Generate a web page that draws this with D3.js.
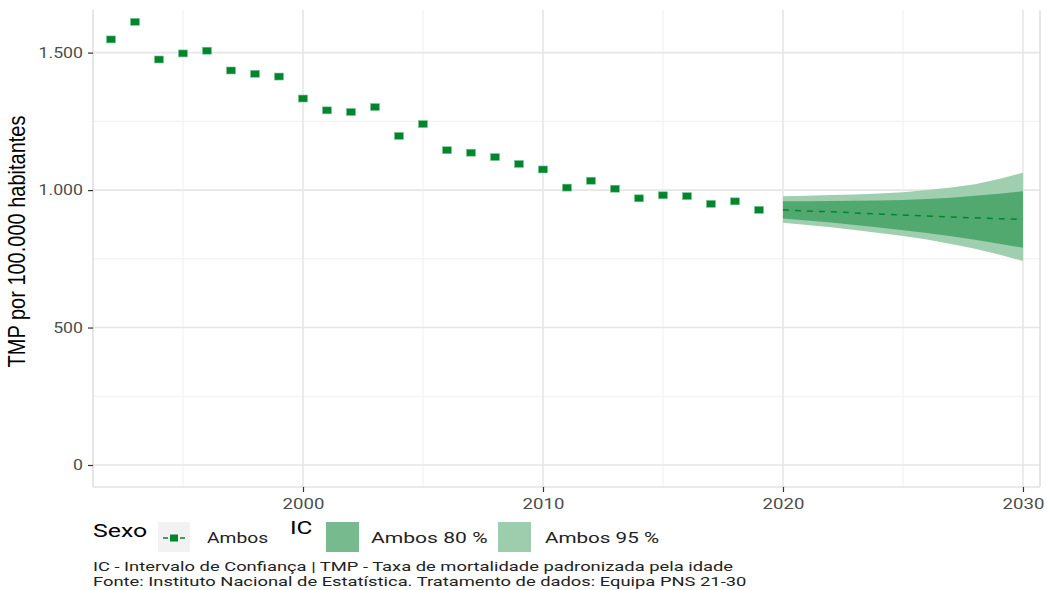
<!DOCTYPE html>
<html><head><meta charset="utf-8">
<script src="https://cdn.jsdelivr.net/npm/d3@7"></script>
<style>body{margin:0;background:#fff}svg{display:block}</style>
</head><body>
<svg id="chart" width="1047" height="590"></svg>
<script>
const years = [1992,1993,1994,1995,1996,1997,1998,1999,2000,2001,2002,2003,2004,2005,2006,2007,2008,2009,2010,2011,2012,2013,2014,2015,2016,2017,2018,2019];
const tmp = [1548,1612,1475,1497,1507,1435,1423,1413,1333,1290,1284,1302,1197,1240,1145,1136,1120,1095,1075,1009,1034,1005,970,981,978,950,959,928];
const fYears = [2020,2021,2022,2023,2024,2025,2026,2027,2028,2029,2030];
const fMean = [928,924,921,917,913,909,906,902,899,896,893];
const lo80 = [897,889,882,873,864,854,844,832,819,805,790];
const hi80 = [959,959,960,961,962,964,968,972,979,987,996];
const lo95 = [881,873,865,855,844,833,820,804,787,766,742];
const hi95 = [978,979,982,984,988,992,1000,1009,1021,1040,1063];
const xTicks = [2000,2010,2020,2030];
const xMinor = [1995,2005,2015,2025];
const yTicks = [0,500,1000,1500];
const yMinor = [250,750,1250];
const yTitle = "TMP por 100.000 habitantes";
const legendSexo = ["Sexo","Ambos"];
const legendIC = ["IC","Ambos 80 %","Ambos 95 %"];
const captions = ["IC - Intervalo de Confiança | TMP - Taxa de mortalidade padronizada pela idade",
                  "Fonte: Instituto Nacional de Estatística. Tratamento de dados: Equipa PNS 21-30"];

const svg = d3.select("#chart");
const L=93, R=1040, T=10, B=487;
const x = d3.scaleLinear().domain([1991.25,2030.71]).range([L,R]);
const y = d3.scaleLinear().domain([-80,1655]).range([B,T]);
const fmt = d => d3.format(",")(d).replace(/,/g,".");
const green = "#00852f";
function stretch(sel, f){
  sel.each(function(){ const w=this.getComputedTextLength(); d3.select(this).attr("textLength",w*f).attr("lengthAdjust","spacingAndGlyphs"); });
}

const g = svg.append("g");
g.selectAll(".xm").data(xMinor).join("line").attr("x1",d=>x(d)).attr("x2",d=>x(d)).attr("y1",T).attr("y2",B).attr("stroke","#f0f0f0").attr("stroke-width",1);
g.selectAll(".ym").data(yMinor).join("line").attr("y1",d=>y(d)).attr("y2",d=>y(d)).attr("x1",L).attr("x2",R).attr("stroke","#f0f0f0").attr("stroke-width",1);
g.selectAll(".xM").data(xTicks).join("line").attr("x1",d=>x(d)).attr("x2",d=>x(d)).attr("y1",T).attr("y2",B).attr("stroke","#e6e6e6").attr("stroke-width",1.6);
g.selectAll(".yM").data(yTicks).join("line").attr("y1",d=>y(d)).attr("y2",d=>y(d)).attr("x1",L).attr("x2",R).attr("stroke","#e6e6e6").attr("stroke-width",1.6);
g.append("line").attr("x1",L).attr("x2",L).attr("y1",T).attr("y2",B).attr("stroke","#d6d6d6").attr("stroke-width",1.2);
g.append("line").attr("x1",L).attr("x2",R).attr("y1",B).attr("y2",B).attr("stroke","#d6d6d6").attr("stroke-width",1.2);
g.append("line").attr("x1",R).attr("x2",R).attr("y1",T).attr("y2",B).attr("stroke","#d6d6d6").attr("stroke-width",1.2);

const xAxis = d3.axisBottom(x).tickValues(xTicks).tickSize(5).tickPadding(6).tickFormat(d3.format("d"));
const xa = svg.append("g").attr("transform",`translate(0,${B})`).call(xAxis);
xa.select(".domain").remove();
xa.selectAll("line").attr("stroke","#333").attr("stroke-width",1.2);
xa.selectAll("text").attr("fill","#4d4d4d").style("font-family","Roboto, sans-serif").style("font-size","15px").call(stretch,1.24);
const yAxis = d3.axisLeft(y).tickValues(yTicks).tickSize(5).tickPadding(5).tickFormat(fmt);
const ya = svg.append("g").attr("transform",`translate(${L},0)`).call(yAxis);
ya.select(".domain").remove();
ya.selectAll("line").attr("stroke","#333").attr("stroke-width",1.2);
ya.selectAll("text").attr("fill","#4d4d4d").style("font-family","Roboto, sans-serif").style("font-size","15px").call(stretch,1.18);

const fc = fYears.map((yr,i)=>({yr,m:fMean[i],l8:lo80[i],h8:hi80[i],l9:lo95[i],h9:hi95[i]}));
svg.append("path").datum(fc).attr("fill","#a0cfb0").attr("d",d3.area().x(d=>x(d.yr)).y0(d=>y(d.l9)).y1(d=>y(d.h9)));
svg.append("path").datum(fc).attr("fill","#52a970").attr("d",d3.area().x(d=>x(d.yr)).y0(d=>y(d.l8)).y1(d=>y(d.h8)));
svg.append("path").datum(fc).attr("fill","none").attr("stroke",green).attr("stroke-width",1.5).attr("stroke-dasharray","6,6")
  .attr("d",d3.line().x(d=>x(d.yr)).y(d=>y(d.m)));

const pts = years.map((yr,i)=>({yr,v:tmp[i]}));
svg.selectAll(".pt").data(pts).join("rect").attr("x",d=>x(d.yr)-4.5).attr("y",d=>y(d.v)-3.5).attr("width",9).attr("height",7)
  .attr("fill",green).attr("stroke","#7fc496").attr("stroke-width",0.6);

svg.append("text").attr("transform",`translate(25,${(T+B)/2 - 7}) rotate(-90) scale(1,1.2)`).attr("text-anchor","middle")
  .style("font-family","'Liberation Sans', Arial, sans-serif").style("font-size","20px").attr("fill","#000").text(yTitle);

const lf = "Roboto, sans-serif";
svg.append("text").attr("x",93).attr("y",537).style("font-family",lf).style("font-size","18px").attr("fill","#000").text(legendSexo[0]).call(stretch,1.38);
svg.append("rect").attr("x",158).attr("y",522).attr("width",32).attr("height",30).attr("fill","#f2f2f2");
svg.append("line").attr("x1",163).attr("x2",168).attr("y1",538).attr("y2",538).attr("stroke",green).attr("stroke-width",1.5);
svg.append("line").attr("x1",180).attr("x2",185).attr("y1",538).attr("y2",538).attr("stroke",green).attr("stroke-width",1.5);
svg.append("rect").attr("x",170).attr("y",534.5).attr("width",8).attr("height",7).attr("fill",green);
svg.append("text").attr("x",207).attr("y",543).style("font-family",lf).style("font-size","15.5px").attr("fill","#222").text(legendSexo[1]).call(stretch,1.24);
svg.append("text").attr("x",290).attr("y",534).style("font-family",lf).style("font-size","18px").attr("fill","#000").text(legendIC[0]).call(stretch,1.35);
svg.append("rect").attr("x",326).attr("y",522).attr("width",33).attr("height",30).attr("fill","#77ba8e");
svg.append("text").attr("x",371).attr("y",543).style("font-family",lf).style("font-size","15.5px").attr("fill","#222").text(legendIC[1]).call(stretch,1.36);
svg.append("rect").attr("x",498).attr("y",522).attr("width",33).attr("height",30).attr("fill","#9ecdad");
svg.append("text").attr("x",545).attr("y",543).style("font-family",lf).style("font-size","15.5px").attr("fill","#222").text(legendIC[2]).call(stretch,1.33);

svg.selectAll(".cap").data(captions).join("text").attr("x",93).attr("y",(d,i)=>571+i*14.5)
  .style("font-family",lf).style("font-size","13.3px").attr("fill","#222").text(d=>d).call(stretch,1.38);
</script>
</body></html>
